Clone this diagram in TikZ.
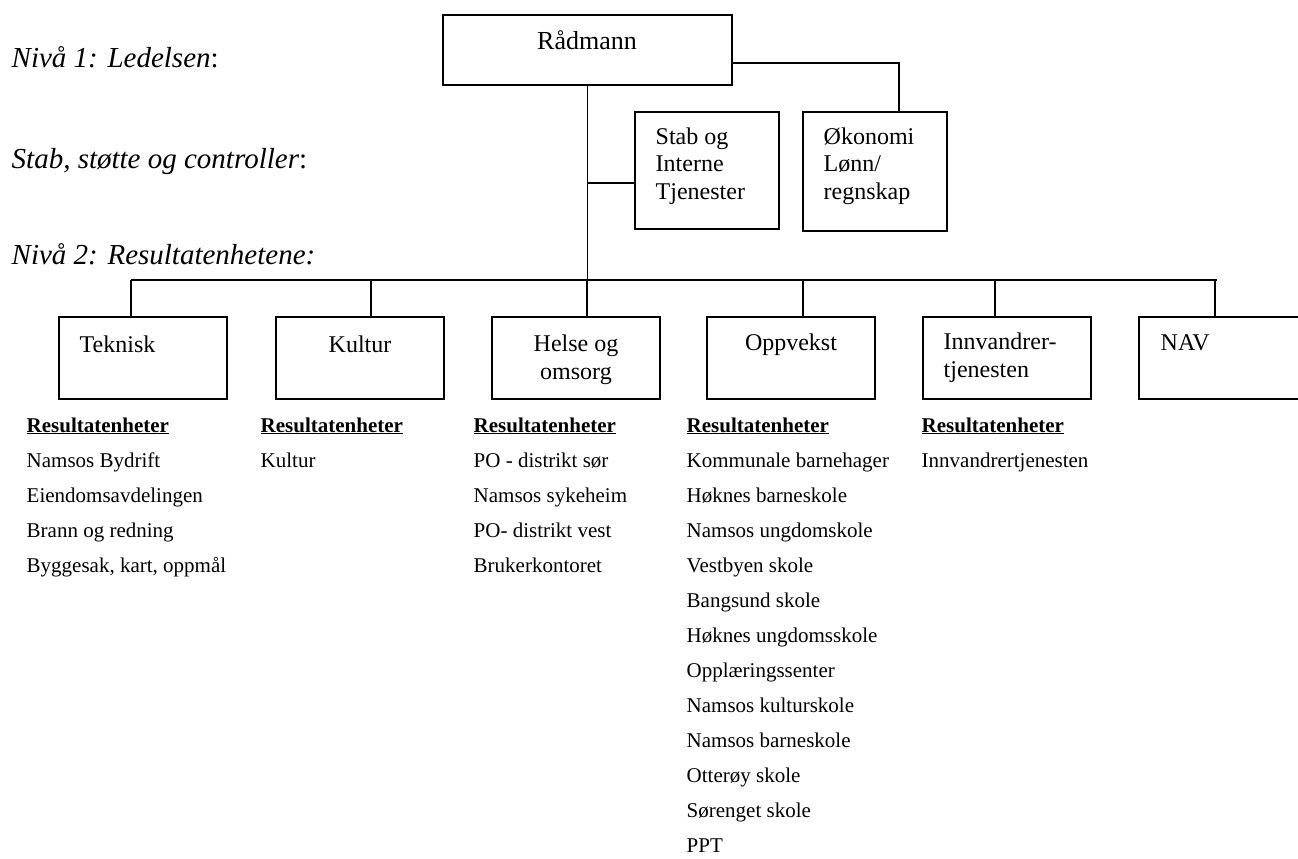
\documentclass[tikz,border=0pt]{standalone}
\usepackage{fontspec}
\setmainfont{Liberation Serif}
\usepackage{tikz}
\tikzset{every picture/.style={line width=1.4pt}}
\tikzset{
  unitbox/.style={draw, minimum width=168pt, minimum height=82pt, inner sep=0pt},
  stabbox/.style={draw, minimum width=144pt, inner sep=0pt},
  boxtext/.style={inner sep=0pt, font=\fontsize{24}{27.5}\selectfont},
  leveltext/.style={inner sep=0pt, anchor=base west, font=\fontsize{29}{34}\selectfont},
  listtext/.style={inner sep=0pt, anchor=base west, align=left, font=\fontsize{21}{35}\selectfont}
}

\begin{document}
\begin{tikzpicture}[x=1pt, y=-1pt]
\useasboundingbox (0,0) rectangle (1298,859);

% level labels
\node[leveltext] (niva1) at (11,67) {\textit{Nivå 1: Ledelsen}:};
\node[leveltext] (stablbl) at (11,168) {\textit{Stab, støtte og controller}:};
\node[leveltext] (niva2) at (11,264) {\textit{Nivå 2: Resultatenhetene:}};

% top
\node[draw, minimum width=289pt, minimum height=70pt, inner sep=0pt] (radmann) at (587.5,50) {};
\node[boxtext, anchor=base, font=\fontsize{26}{30}\selectfont] at (587,50) {Rådmann};

% multi-line texts sit on their last line
\node[stabbox, minimum height=117pt] (stab) at (707,170.5) {};
\node[boxtext, anchor=base west, align=left] at (655,199) {Stab og\\Interne\\Tjenester};
\node[stabbox, minimum height=119pt] (okonomi) at (875,171.5) {};
\node[boxtext, anchor=base west, align=left] at (823,199) {Økonomi\\Lønn/\\regnskap};

% result units
\begin{scope}[every node/.style={unitbox}]
\node (teknisk) at (143,358) {};
\node (kultur) at (360,358) {};
\node (helse) at (576,358) {};
\node (oppvekst) at (791,358) {};
\node (innv) at (1007,358) {};
\node (nav) at (1223,358) {};
\end{scope}

\node[boxtext, anchor=base west] at (79,352) {Teknisk};
\node[boxtext, anchor=base] at (360,352) {Kultur};
\node[boxtext, anchor=base, align=center] at (576,379) {Helse og\\omsorg};
\node[boxtext, anchor=base] at (791,350) {Oppvekst};
\node[boxtext, anchor=base west, align=left] at (943,377) {Innvandrer-\\tjenesten};
\node[boxtext, anchor=base west] at (1160,350) {NAV};

% lines
\coordinate (barL) at (131,280);
\coordinate (barR) at (1217,280);
\coordinate (j1) at (587,183);
\coordinate (okc) at (899,63);
\draw (barL) -- (barR);
\draw (radmann.south) -- (radmann.south |- barL);
\draw (j1) -- (j1 -| stab.west);
\draw (okc -| radmann.east) -- (okc) -- (okc |- okonomi.north);
\foreach \n/\x in {teknisk/131, kultur/371, helse/587, oppvekst/803, innv/995, nav/1215}{
  \coordinate (b-\n) at (\x,280);
  \draw (b-\n) -- (b-\n |- \n.north);
}

% lists (anchored on the last line)
\node[listtext] (l-teknisk) at (26,572) {\underline{\textbf{Resultatenheter}}\\Namsos Bydrift\\Eiendomsavdelingen\\Brann og redning\\Byggesak, kart, oppmål};
\node[listtext] (l-kultur) at (260,467) {\underline{\textbf{Resultatenheter}}\\Kultur};
\node[listtext] (l-helse) at (473,572) {\underline{\textbf{Resultatenheter}}\\PO - distrikt sør\\Namsos sykeheim\\PO- distrikt vest\\Brukerkontoret};
\node[listtext] (l-oppvekst) at (686,852) {\underline{\textbf{Resultatenheter}}\\Kommunale barnehager\\Høknes barneskole\\Namsos ungdomskole\\Vestbyen skole\\Bangsund skole\\Høknes ungdomsskole\\Opplæringssenter\\Namsos kulturskole\\Namsos barneskole\\Otterøy skole\\Sørenget skole\\PPT};
\node[listtext] (l-innv) at (921,467) {\underline{\textbf{Resultatenheter}}\\Innvandrertjenesten};
\end{tikzpicture}
\end{document}
